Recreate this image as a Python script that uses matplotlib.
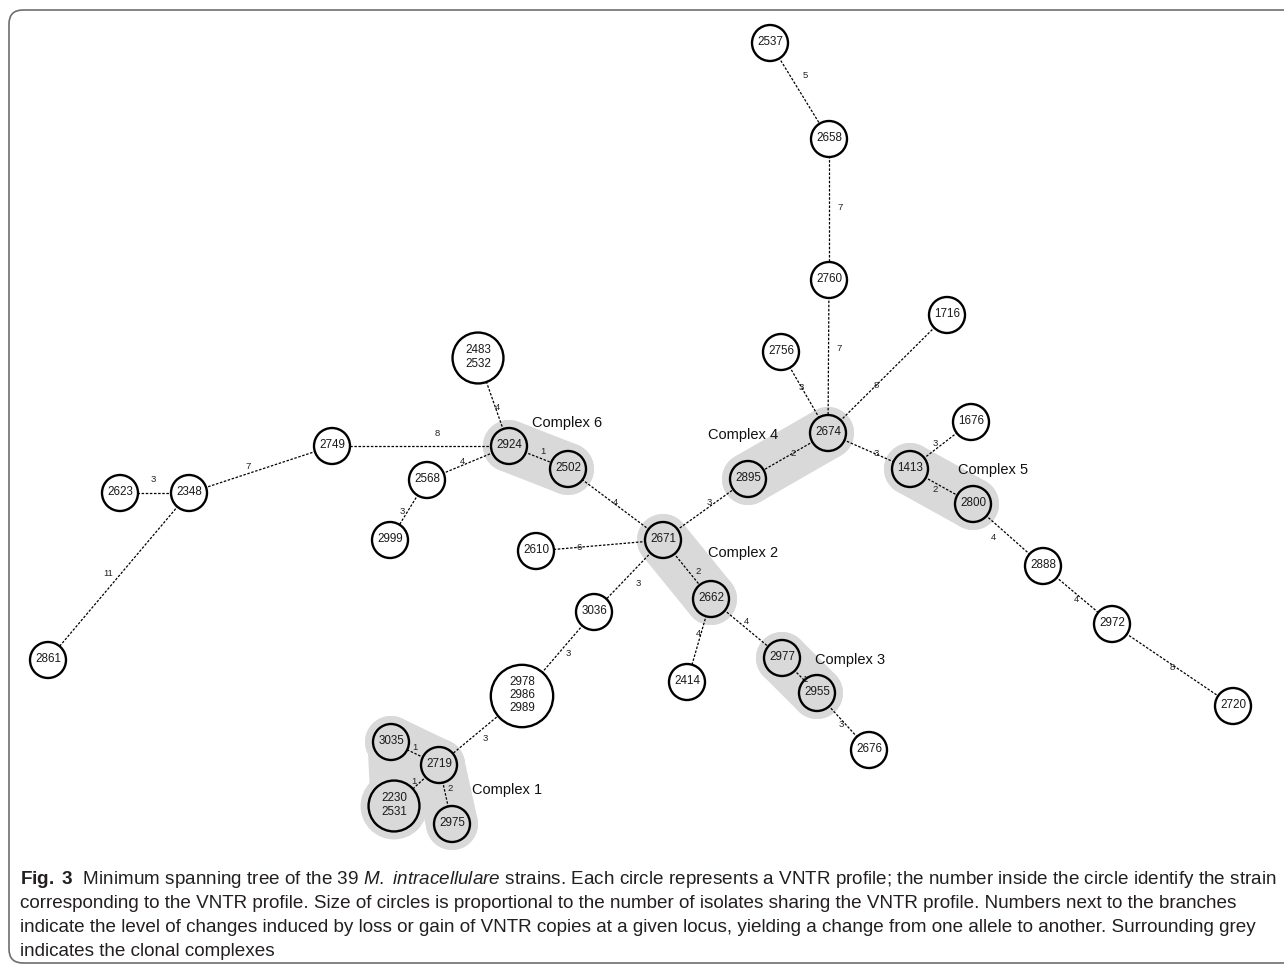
import numpy as np
import matplotlib
matplotlib.use("Agg")
import matplotlib.pyplot as plt
from matplotlib.patches import Circle, Polygon, FancyBboxPatch
from matplotlib import font_manager

# ---- data -------------------------------------------------------------
# one circle per VNTR profile; strains sharing a profile share a circle
profiles = ["2537", "2658", "2760", "1716", "2756", "2674", "1676", "2895",
            "1413", "2800", "2888", "2972", "2720", "2671", "2662", "2414",
            "2977", "2955", "2676", "2610", "3036", "2978\n2986\n2989",
            "2719", "3035", "2230\n2531", "2975", "2502", "2924",
            "2483\n2532", "2749", "2568", "2999", "2348", "2623", "2861"]
n_isolates = [len(p.split("\n")) for p in profiles]

# branches of the minimum spanning tree (by first strain of each profile)
edge_a = ["2537", "2658", "2760", "2756", "1716", "2674", "2674", "1413",
          "1413", "2800", "2888", "2972", "2671", "2671", "2671", "2671",
          "2671", "2662", "2662", "2977", "2955", "3036", "2978", "2719",
          "2719", "2719", "2924", "2924", "2924", "2924", "2568", "2749",
          "2348", "2348"]
edge_b = ["2658", "2760", "2674", "2674", "2674", "2895", "1413", "1676",
          "2800", "2888", "2972", "2720", "2895", "2502", "2610", "3036",
          "2662", "2414", "2977", "2955", "2676", "2978", "2719", "3035",
          "2230", "2975", "2502", "2483", "2749", "2568", "2999", "2348",
          "2623", "2861"]
edge_changes = [5, 7, 7, 3, 8, 2, 3, 3, 2, 4, 4, 8, 3, 4, 6, 3, 2, 4, 4, 1,
                3, 3, 3, 1, 1, 2, 1, 4, 8, 4, 3, 7, 3, 11]

complex_names = ["Complex 1", "Complex 2", "Complex 3", "Complex 4",
                 "Complex 5", "Complex 6"]
complex_members = [["2719", "3035", "2230", "2975"], ["2671", "2662"],
                   ["2977", "2955"], ["2674", "2895"], ["1413", "2800"],
                   ["2924", "2502"]]

# ---- layout (pixel coords of the original drawing, y pointing down) ---
layout = {"2537": (770, 43), "2658": (829, 139), "2760": (829, 280),
          "1716": (947, 315), "2756": (781, 352), "2674": (828, 433),
          "1676": (971, 422), "2895": (748, 479), "1413": (910, 469),
          "2800": (973, 504), "2888": (1043, 566), "2972": (1112, 624),
          "2720": (1233, 706), "2671": (663, 540), "2662": (711, 599),
          "2414": (687, 682), "2977": (782, 658), "2955": (817, 693),
          "2676": (869, 750), "2610": (536, 551), "3036": (594, 612),
          "2978": (522, 696), "2719": (439, 765), "3035": (391, 742),
          "2230": (394, 806), "2975": (452, 824), "2502": (568, 469),
          "2924": (509, 446), "2483": (478, 358), "2749": (332, 446),
          "2568": (427, 480), "2999": (390, 540), "2348": (189, 493),
          "2623": (120, 493), "2861": (48, 660)}
# label offsets from branch midpoints
lab_off = [(6, -15), (11, -2), (11, -8), (-3, -5), (-11, 11), (5, -2),
           (7, 2), (-5, -2), (-6, 3), (-15, 2), (-1, 4), (0, 3), (4, -7),
           (0, -2), (-20, 2), (10, 7), (11, 2), (-1, -7), (0, -7), (5, 4),
           (-2, 3), (10, 0), (5, 8), (0, -6), (-3, -4), (5, -6), (4, -6),
           (4, 6), (17, -13), (-6, -2), (-6, 2), (-12, -3), (-1, -14),
           (-10, -3)]
label_pos = {"Complex 1": (472, 790), "Complex 2": (708, 553),
             "Complex 3": (815, 660), "Complex 4": (708, 435),
             "Complex 5": (958, 470), "Complex 6": (532, 423)}

GREY = "#d9d9d9"
R0 = 18
names = {f.name for f in font_manager.fontManager.ttflist}
FONT = "Liberation Sans" if "Liberation Sans" in names else "DejaVu Sans"
CAP = "Liberation Sans Narrow" if "Liberation Sans Narrow" in names else FONT
plt.rcParams["font.family"] = FONT
plt.rcParams["mathtext.fontset"] = "custom"
plt.rcParams["mathtext.rm"] = CAP
plt.rcParams["mathtext.it"] = CAP + ":italic"
plt.rcParams["mathtext.bf"] = CAP + ":bold"

key = [p.split("\n")[0] for p in profiles]
radius = {k: R0 * np.sqrt(n) for k, n in zip(key, n_isolates)}
in_complex = {m for mem in complex_members for m in mem}

fig = plt.figure(figsize=(12.84, 9.66), dpi=100)
ax = fig.add_axes([0, 0, 1, 1])
ax.set_xlim(0, 1284)
ax.set_ylim(966, 0)
ax.axis("off")

# outer frame
ax.add_patch(FancyBboxPatch((9, 10), 1320, 953,
                            boxstyle="round,pad=0,rounding_size=14",
                            fc="none", ec="#6e6e6e", lw=1.2, zorder=0))

# clonal complexes: grey halos
halo = 26
for mem in complex_members:
    hub = mem[0]
    for m in mem[1:]:
        (x0, y0), (x1, y1) = layout[hub], layout[m]
        ax.plot([x0, x1], [y0, y1], color=GREY, lw=2 * halo * 0.72,
                solid_capstyle="round", zorder=1)
    for m in mem:
        ax.add_patch(Circle(layout[m], radius[m] + 8, fc=GREY, ec="none",
                            zorder=1))
mem1 = complex_members[0]
ax.add_patch(Polygon([layout[mem1[1]], layout[mem1[0]], layout[mem1[2]]],
                     closed=True, fc=GREY, ec="none", zorder=1))
ax.plot([layout["3035"][0] - 4, layout["2230"][0] - 4],
        [layout["3035"][1], layout["2230"][1]], color=GREY, lw=28,
        solid_capstyle="round", zorder=1)

# branches
for a, b, w, (dx, dy) in zip(edge_a, edge_b, edge_changes, lab_off):
    (x0, y0), (x1, y1) = layout[a], layout[b]
    ax.plot([x0, x1], [y0, y1], color="black", lw=0.9,
            linestyle=(0, (2.0, 1.3)), zorder=2)
    ax.text((x0 + x1) / 2 + dx, (y0 + y1) / 2 + dy, str(w), fontsize=6.8,
            ha="center", va="center", color="#222222", zorder=5)

# profiles
for p, k in zip(profiles, key):
    fc = GREY if k in in_complex else "white"
    ax.add_patch(Circle(layout[k], radius[k], fc=fc, ec="black", lw=1.7,
                        zorder=3))
    ax.text(layout[k][0], layout[k][1] - 1, p, fontsize=8.4, ha="center",
            va="center", color="#1a1a1a", linespacing=1.15, zorder=4)

for c in complex_names:
    x, y = label_pos[c]
    ax.text(x, y, c, fontsize=10.5, ha="left", va="center", color="#111111",
            zorder=5)

# caption
cap_lines = [
    r"$\mathbf{Fig.\ 3}$  Minimum spanning tree of the 39 $\mathit{M.\ intracellulare}$ strains. Each circle represents a VNTR profile; the number inside the circle identify the strain",
    "corresponding to the VNTR profile. Size of circles is proportional to the number of isolates sharing the VNTR profile. Numbers next to the branches",
    "indicate the level of changes induced by loss or gain of VNTR copies at a given locus, yielding a change from one allele to another. Surrounding grey",
    "indicates the clonal complexes",
]
cap_y = [880, 904, 928, 952]
cap_font = 12
renderer = fig.canvas.get_renderer()
t = ax.text(20, cap_y[0], cap_lines[0], fontsize=cap_font, family=CAP,
            va="center", color="#231f20")
w = t.get_window_extent(renderer).width
cap_font = cap_font * 1257 / w
t.set_fontsize(cap_font)
for line, y in zip(cap_lines[1:], cap_y[1:]):
    ax.text(20, y, line, fontsize=cap_font, family=CAP, va="center",
            color="#231f20")

fig.savefig("out.png", dpi=100)
